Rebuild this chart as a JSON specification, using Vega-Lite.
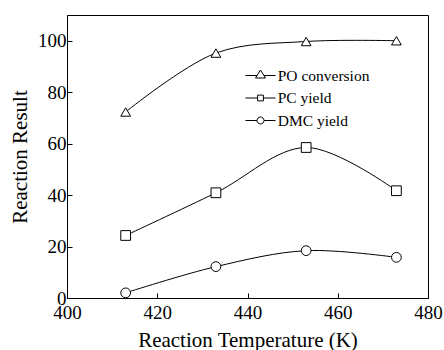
{
  "$schema": "https://vega.github.io/schema/vega-lite/v6.json",
  "width": 361,
  "height": 283,
  "autosize": {"type": "none"},
  "padding": {"left": 67, "top": 15, "right": 16, "bottom": 52},
  "background": "white",
  "config": {
    "view": {"stroke": "black", "strokeWidth": 1},
    "font": "Liberation Serif",
    "axis": {
      "domainColor": "black",
      "tickColor": "black",
      "labelColor": "black",
      "titleColor": "black",
      "labelFont": "Liberation Serif",
      "titleFont": "Liberation Serif",
      "labelFontSize": 19,
      "titleFontSize": 21,
      "titleFontWeight": "normal",
      "grid": false,
      "tickSize": -5,
      "domainWidth": 1,
      "tickWidth": 1
    },
    "legend": {
      "labelFont": "Liberation Serif"
    }
  },
  "data": {
    "values": [
      {"T": 413, "v": 72.3, "series": "PO conversion"},
      {"T": 433, "v": 95.2, "series": "PO conversion"},
      {"T": 453, "v": 99.7, "series": "PO conversion"},
      {"T": 473, "v": 100, "series": "PO conversion"},
      {"T": 413, "v": 24.3, "series": "PC yield"},
      {"T": 433, "v": 40.9, "series": "PC yield"},
      {"T": 453, "v": 58.5, "series": "PC yield"},
      {"T": 473, "v": 41.7, "series": "PC yield"},
      {"T": 413, "v": 2.0, "series": "DMC yield"},
      {"T": 433, "v": 12.2, "series": "DMC yield"},
      {"T": 453, "v": 18.4, "series": "DMC yield"},
      {"T": 473, "v": 15.8, "series": "DMC yield"}
    ]
  },
  "encoding": {
    "x": {
      "field": "T",
      "type": "quantitative",
      "scale": {"domain": [400, 480], "nice": false, "zero": false},
      "axis": {"values": [400, 420, 440, 460, 480], "title": "Reaction Temperature (K)", "labelPadding": 10, "titlePadding": 7, "labelFlush": false}
    },
    "y": {
      "field": "v",
      "type": "quantitative",
      "scale": {"domain": [0, 110], "nice": false},
      "axis": {"values": [0, 20, 40, 60, 80, 100], "title": "Reaction Result", "labelPadding": 6, "titlePadding": 7, "labelFlush": false}
    }
  },
  "layer": [
    {
      "mark": {"type": "line", "interpolate": "catmull-rom", "color": "black", "strokeWidth": 1},
      "encoding": {"detail": {"field": "series", "type": "nominal"}}
    },
    {
      "mark": {"type": "point", "filled": true, "fill": "white", "stroke": "black", "strokeWidth": 1, "opacity": 1, "size": 95},
      "encoding": {
        "shape": {
          "field": "series",
          "type": "nominal",
          "scale": {"domain": ["PO conversion", "PC yield", "DMC yield"], "range": ["triangle-up", "square", "circle"]},
          "legend": null
        }
      }
    },
    {
      "transform": [{"filter": "datum.v < -1000"}],
      "mark": {"type": "point", "filled": false, "color": "black", "strokeWidth": 1, "opacity": 1},
      "encoding": {
        "shape": {
          "field": "series",
          "type": "nominal",
          "scale": {
            "domain": ["PO conversion", "PC yield", "DMC yield"],
            "range": [
              "M-1.5,0H-0.34M0.34,0H1.5M-0.5,0.25L0,-0.55L0.5,0.25Z",
              "M-1.5,0H-0.29M0.29,0H1.5M-0.29,-0.29H0.29V0.29H-0.29Z",
              "M-1.5,0H-0.35M0.35,0H1.5M-0.35,0A0.35,0.35 0 1,0 0.35,0A0.35,0.35 0 1,0 -0.35,0Z"
            ]
          },
          "legend": {
            "orient": "none",
            "legendX": 183,
            "legendY": 50,
            "title": null,
            "padding": 0,
            "rowPadding": 3.5,
            "symbolSize": 400,
            "labelFontSize": 15.5,
            "labelFont": "Liberation Serif",
            "labelColor": "black",
            "labelOffset": 6.7,
            "symbolStrokeWidth": 1,
            "symbolStrokeColor": "black",
            "symbolOpacity": 1
          }
        }
      }
    }
  ],
  "resolve": {"scale": {"shape": "independent"}, "legend": {"shape": "independent"}}
}
